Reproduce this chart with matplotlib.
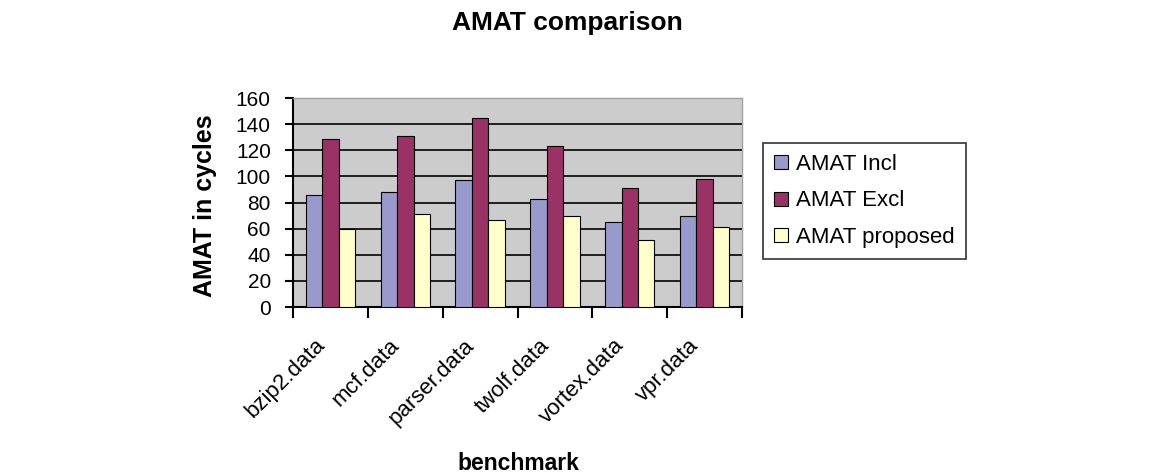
import numpy as np
import matplotlib
matplotlib.use('Agg')
import matplotlib.pyplot as plt
import matplotlib.transforms as mtransforms
from matplotlib.patches import Patch

plt.rcParams['font.family'] = ['Liberation Sans', 'DejaVu Sans']

# benchmarks and AMAT values (cycles)
BENCHMARKS = ['bzip2.data', 'mcf.data', 'parser.data', 'twolf.data', 'vortex.data', 'vpr.data']
AMAT_INCL = [86, 88, 97, 83, 65, 70]
AMAT_EXCL = [129, 131, 145, 123, 91, 98]
AMAT_PROPOSED = [60, 71, 67, 70, 51, 61]

SERIES = ['AMAT Incl', 'AMAT Excl', 'AMAT proposed']
COLORS = ['#9999cc', '#993366', '#ffffcc']
Y_TICKS = list(range(0, 161, 20))

fig = plt.figure(figsize=(11.51, 4.76), dpi=100)
ax = fig.add_axes([0.2546, 0.355, 0.3901, 0.439])
ax.set_facecolor('#cccccc')

x = np.arange(len(BENCHMARKS))
w = 0.22
for i, (vals, col) in enumerate(zip([AMAT_INCL, AMAT_EXCL, AMAT_PROPOSED], COLORS)):
    ax.bar(x + (i - 1) * w, vals, w, color=col, edgecolor='black', linewidth=0.8, zorder=3)

ax.set_xlim(-0.5, len(BENCHMARKS) - 0.5)
ax.set_ylim(0, 160)
ax.set_yticks(Y_TICKS)
ax.yaxis.grid(True, color='black', linewidth=1.2, zorder=0)
ax.set_axisbelow(True)

# category ticks sit between groups
ax.set_xticks(np.arange(len(BENCHMARKS) + 1) - 0.5)
ax.set_xticklabels([])
ax.set_xticks(x, minor=True)
ax.set_xticklabels(BENCHMARKS, minor=True, rotation=45, ha='right', rotation_mode='anchor', fontsize=16)
ax.tick_params(axis='x', which='minor', length=0, pad=20)
ax.tick_params(axis='x', which='major', length=8, width=1.5, direction='out')
ax.tick_params(axis='y', length=6, width=1.5, labelsize=15, pad=10)

# nudge the rotated labels a little to the left
shift = mtransforms.ScaledTranslation(-0.16, 0, fig.dpi_scale_trans)
for lbl in ax.get_xticklabels(minor=True):
    lbl.set_transform(lbl.get_transform() + shift)

for s in ['top', 'right']:
    ax.spines[s].set_color('#a0a0a0')
    ax.spines[s].set_linewidth(1)
for s in ['left', 'bottom']:
    ax.spines[s].set_linewidth(1.5)

fig.text(0.4926, 0.952, 'AMAT comparison', ha='center', va='center', fontsize=19, fontweight='bold')
fig.text(0.178, 0.567, 'AMAT in cycles', ha='center', va='center', rotation=90, fontsize=18, fontweight='bold')
fig.text(0.45, 0.027, 'benchmark', ha='center', va='center', fontsize=16.5, fontweight='bold')

handles = [Patch(facecolor=c, edgecolor='black', linewidth=0.8) for c in COLORS]
leg = fig.legend(handles, SERIES, loc='upper left', bbox_to_anchor=(0.663, 0.70),
                 fontsize=16, frameon=True, fancybox=False, edgecolor='black',
                 handlelength=0.6, handleheight=0.6, handletextpad=0.4, labelspacing=0.7,
                 borderpad=0.5, borderaxespad=0)
leg.get_frame().set_linewidth(1.2)

fig.savefig('out.png', dpi=100)
